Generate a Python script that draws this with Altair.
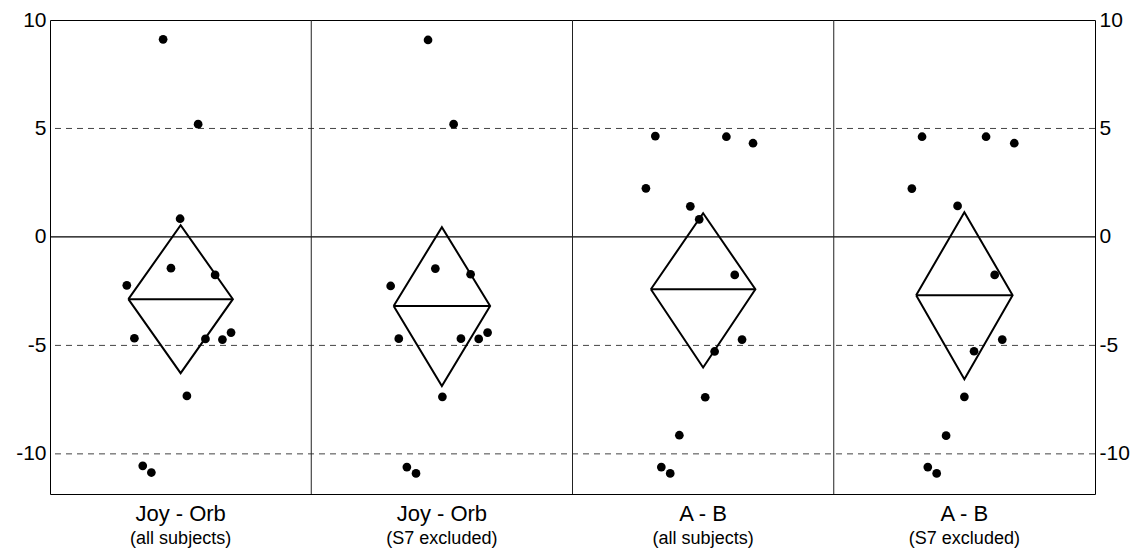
import altair as alt
import pandas as pd

# ---- data ----
titles = ["Joy - Orb", "Joy - Orb", "A - B", "A - B"]
subtitles = ["(all subjects)", "(S7 excluded)", "(all subjects)", "(S7 excluded)"]

# per-panel point values (y) and horizontal jitter (offset from panel centre, panel units)
p1_y = [9.11, 5.2, 0.84, -1.44, -1.75, -2.23, -4.67, -4.70, -4.73, -4.41, -7.33, -10.55, -10.86]
p1_x = [-0.067, 0.067, -0.002, -0.037, 0.132, -0.206, -0.177, 0.095, 0.160, 0.193, 0.024, -0.145, -0.112]

p2_y = [9.08, 5.2, -1.46, -1.72, -2.26, -4.69, -4.69, -4.70, -4.41, -7.37, -10.61, -10.90]
p2_x = [-0.053, 0.045, -0.025, 0.110, -0.196, -0.165, 0.073, 0.141, 0.175, 0.002, -0.134, -0.099]

p3_y = [4.65, 4.62, 4.32, 2.24, 1.41, 0.81, -1.75, -4.73, -5.28, -7.39, -9.14, -10.61, -10.90]
p3_x = [-0.183, 0.089, 0.191, -0.219, -0.049, -0.015, 0.121, 0.149, 0.044, 0.008, -0.091, -0.160, -0.126]

p4_y = [4.62, 4.62, 4.32, 2.23, 1.43, -1.75, -4.73, -5.27, -7.37, -9.16, -10.61, -10.90]
p4_x = [-0.162, 0.083, 0.191, -0.201, -0.026, 0.116, 0.145, 0.037, 0.000, -0.070, -0.140, -0.106]

# means diamonds (mean and 95% CI limits)
means = [-2.87, -3.18, -2.41, -2.69]
ci_upper = [0.54, 0.45, 1.09, 1.14]
ci_lower = [-6.28, -6.87, -6.02, -6.56]

y_ticks = [-10, -5, 0, 5, 10]
dashed_grid = [5, -5, -10]
zero_line = [0]
dividers = [1, 2, 3]

# ---- build tables ----
ys = [p1_y, p2_y, p3_y, p4_y]
xs = [p1_x, p2_x, p3_x, p4_x]
pts = []
for i, (xx, yy) in enumerate(zip(xs, ys)):
    for a, b in zip(xx, yy):
        pts.append({"panel": i, "x": i + 0.5 + a, "y": b})
pts_df = pd.DataFrame(pts)

dia = []
mline = []
for i in range(4):
    n = len(ys[i])
    c = i + 0.5
    hw = 0.2 * n / 13
    verts = [(c - hw, means[i]), (c, ci_upper[i]), (c + hw, means[i]), (c, ci_lower[i]), (c - hw, means[i])]
    for k, (vx, vy) in enumerate(verts):
        dia.append({"panel": i, "order": k, "x": vx, "y": vy})
    mline.append({"panel": i, "x": c - hw, "x2": c + hw, "y": means[i]})
dia_df = pd.DataFrame(dia)
mline_df = pd.DataFrame(mline)

lab_df = pd.DataFrame({"x": [i + 0.5 for i in range(4)], "title": titles, "sub": subtitles})
grid_df = pd.DataFrame({"y": dashed_grid})
zero_df = pd.DataFrame({"y": zero_line})
div_df = pd.DataFrame({"x": dividers})

FONT = "Liberation Sans"
W, H = 1045, 474
xscale = alt.Scale(domain=[0, 4], nice=False, zero=False)
yscale = alt.Scale(domain=[-11.85, 10], nice=False, zero=False)

X = lambda f="x": alt.X(f"{f}:Q", scale=xscale, axis=None)


def yaxis(orient, pad):
    return alt.Axis(values=y_ticks, orient=orient, grid=False, ticks=False, tickSize=0,
                    labelPadding=pad, labelFontSize=21, labelFont=FONT, labelColor="black",
                    labelExpr="'' + datum.value", domain=False)


points = alt.Chart(pts_df).mark_circle(color="black", opacity=1, size=76).encode(
    x=X(),
    y=alt.Y("y:Q", scale=yscale, title=None, axis=yaxis("left", 4)),
)

diamond = alt.Chart(dia_df).mark_line(color="black", strokeWidth=2).encode(
    x=X(),
    y=alt.Y("y:Q", scale=yscale, axis=None),
    detail="panel:N",
    order="order:Q",
)

meanl = alt.Chart(mline_df).mark_rule(color="black", strokeWidth=2).encode(
    x=X(), x2="x2:Q",
    y=alt.Y("y:Q", scale=yscale, axis=None),
)

grid = alt.Chart(grid_df).mark_rule(color="#444", strokeWidth=1, strokeDash=[6, 5]).encode(
    y=alt.Y("y:Q", scale=yscale, title=None, axis=yaxis("right", 4)),
)

zero = alt.Chart(zero_df).mark_rule(color="black", strokeWidth=1.3).encode(
    y=alt.Y("y:Q", scale=yscale, axis=None),
)

divs = alt.Chart(div_df).mark_rule(color="#222", strokeWidth=1).encode(x=X())

tlab = alt.Chart(lab_df).mark_text(font=FONT, fontSize=22, color="black", baseline="alphabetic").encode(
    x=X(), y=alt.value(501), text="title:N")
slab = alt.Chart(lab_df).mark_text(font=FONT, fontSize=18, color="black", baseline="alphabetic").encode(
    x=X(), y=alt.value(524), text="sub:N")

chart = alt.layer(grid, zero, divs, diamond, meanl, points, tlab, slab).resolve_scale(
    y="independent"
).properties(
    width=W, height=H,
    autosize=alt.AutoSizeParams(type="none"),
    padding={"left": 50, "top": 20, "right": 1134 - 50 - W, "bottom": 550 - 20 - H},
    background="white",
).configure_view(stroke="black", strokeWidth=1)

chart.save("out.html", embed_options={"renderer": "svg", "actions": False})
